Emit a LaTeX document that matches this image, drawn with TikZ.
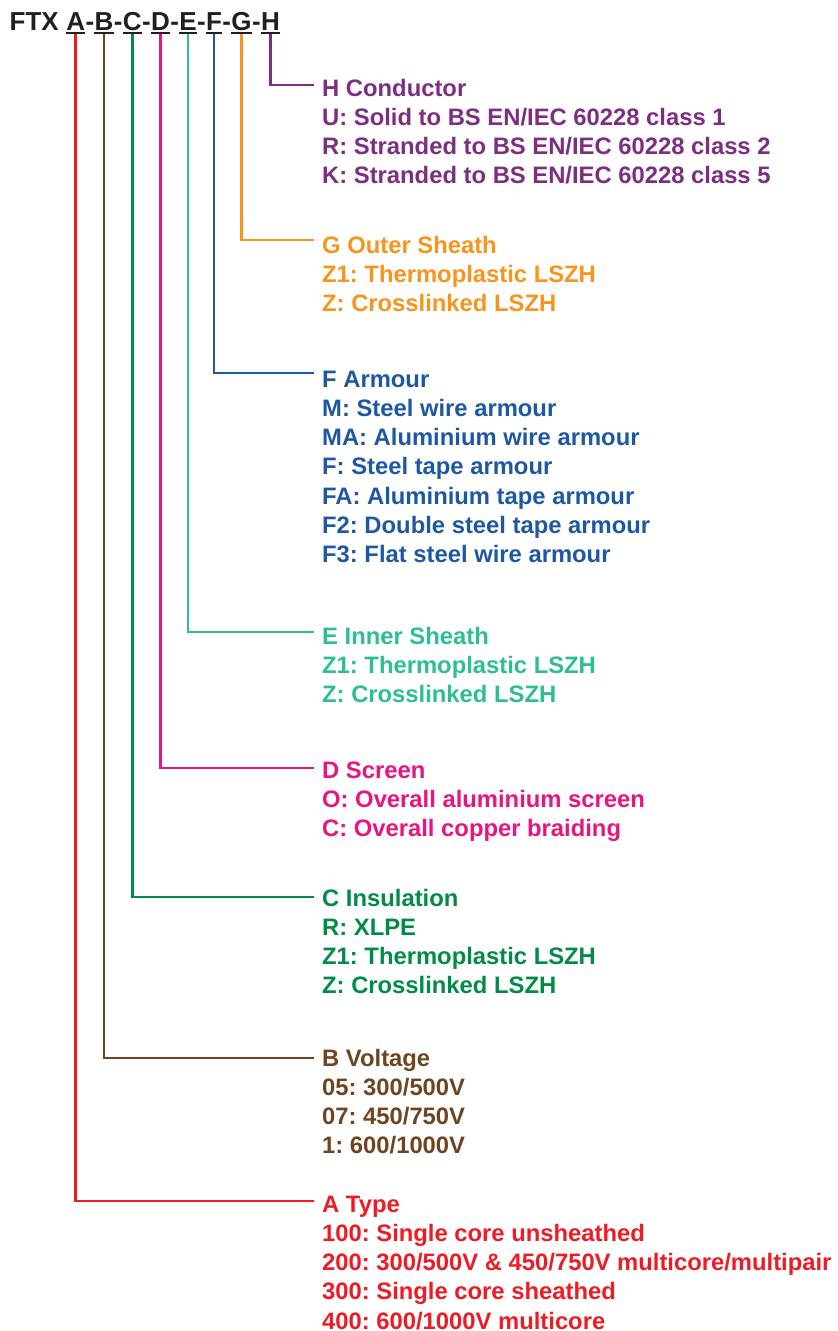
\documentclass[tikz,border=0pt]{standalone}
\usepackage{fontspec}
\setmainfont{Liberation Sans}
\frenchspacing
\definecolor{hdrc}{RGB}{35,31,32}
\definecolor{cA}{RGB}{237,28,36}
\definecolor{cB}{RGB}{110,68,33}
\definecolor{cC}{RGB}{0,140,70}
\definecolor{cD}{RGB}{232,20,130}
\definecolor{cE}{RGB}{45,190,150}
\definecolor{cF}{RGB}{30,88,162}
\definecolor{cG}{RGB}{247,148,29}
\definecolor{cH}{RGB}{125,45,130}
\begin{document}
\begin{tikzpicture}[x=1pt,y=-1pt,
  hdr/.style={inner sep=0pt, anchor=base west, font=\fontsize{26}{30}\selectfont\bfseries, text=hdrc},
  ln/.style={inner sep=0pt, anchor=base west, font=\fontsize{23.8}{29.3}\selectfont\bfseries\frenchspacing},
  conn/.style={line width=2.8pt},
  uline/.style={hdrc, line width=2pt}]
\useasboundingbox (0,0) rectangle (838,1331);
% header
\node[hdr] (ftx) at (9.5,30.5) {FTX\kern7.2pt};
\node[hdr] (A) at (ftx.base east) {A};
\node[hdr] (h1) at (A.base east) {-};
\node[hdr] (B) at (h1.base east) {B};
\node[hdr] (h2) at (B.base east) {-};
\node[hdr] (C) at (h2.base east) {C};
\node[hdr] (h3) at (C.base east) {-};
\node[hdr] (D) at (h3.base east) {D};
\node[hdr] (h4) at (D.base east) {-};
\node[hdr] (E) at (h4.base east) {E};
\node[hdr] (h5) at (E.base east) {-};
\node[hdr] (F) at (h5.base east) {F};
\node[hdr] (h6) at (F.base east) {-};
\node[hdr] (G) at (h6.base east) {G};
\node[hdr] (h7) at (G.base east) {-};
\node[hdr] (H) at (h7.base east) {H};
\foreach \n in {A,B,C,D,E,F,G,H}{
  \draw[uline] ([yshift=-2.5pt]\n.base west) -- ([yshift=-2.5pt]\n.base east);
}
% H
\node[ln, text=cH] (Ht) at (322,96) {H Conductor};
\node[ln, text=cH] (H1) at (322,125.3) {U: Solid to BS EN/IEC 60228 class 1};
\node[ln, text=cH] (H2) at (322,154.6) {R: Stranded to BS EN/IEC 60228 class 2};
\node[ln, text=cH] (H3) at (322,183.9) {K: Stranded to BS EN/IEC 60228 class 5};
\coordinate (He) at (314,85);
\draw[conn, cH] ([yshift=-3pt]H.south) |- (He);
% G
\node[ln, text=cG] (Gt) at (322,253) {G Outer Sheath};
\node[ln, text=cG] (G1) at (322,282.3) {Z1: Thermoplastic LSZH};
\node[ln, text=cG] (G2) at (322,311.6) {Z: Crosslinked LSZH};
\coordinate (Ge) at (314,240);
\draw[conn, cG] ([yshift=-3pt]G.south) |- (Ge);
% F
\node[ln, text=cF] (Ft) at (322,387) {F Armour};
\node[ln, text=cF] (F1) at (322,416.3) {M: Steel wire armour};
\node[ln, text=cF] (F2) at (322,445.6) {MA: Aluminium wire armour};
\node[ln, text=cF] (F3) at (322,474.9) {F: Steel tape armour};
\node[ln, text=cF] (F4) at (322,504.2) {FA: Aluminium tape armour};
\node[ln, text=cF] (F5) at (322,533.5) {F2: Double steel tape armour};
\node[ln, text=cF] (F6) at (322,562.8) {F3: Flat steel wire armour};
\coordinate (Fe) at (314,373);
\draw[conn, cF] ([yshift=-3pt]F.south) |- (Fe);
% E
\node[ln, text=cE] (Et) at (322,644) {E Inner Sheath};
\node[ln, text=cE] (E1) at (322,673.3) {Z1: Thermoplastic LSZH};
\node[ln, text=cE] (E2) at (322,702.6) {Z: Crosslinked LSZH};
\coordinate (Ee) at (314,632);
\draw[conn, cE] ([yshift=-3pt]E.south) |- (Ee);
% D
\node[ln, text=cD] (Dt) at (322,778) {D Screen};
\node[ln, text=cD] (D1) at (322,807.3) {O: Overall aluminium screen};
\node[ln, text=cD] (D2) at (322,836.6) {C: Overall copper braiding};
\coordinate (De) at (314,768);
\draw[conn, cD] ([yshift=-3pt]D.south) |- (De);
% C
\node[ln, text=cC] (Ct) at (322,906) {C Insulation};
\node[ln, text=cC] (C1) at (322,935.3) {R: XLPE};
\node[ln, text=cC] (C2) at (322,964.6) {Z1: Thermoplastic LSZH};
\node[ln, text=cC] (C3) at (322,993.9) {Z: Crosslinked LSZH};
\coordinate (Ce) at (314,897);
\draw[conn, cC] ([yshift=-3pt]C.south) |- (Ce);
% B
\node[ln, text=cB] (Bt) at (322,1066) {B Voltage};
\node[ln, text=cB] (B1) at (322,1095.3) {05: 300/500V};
\node[ln, text=cB] (B2) at (322,1124.6) {07: 450/750V};
\node[ln, text=cB] (B3) at (322,1153.9) {1: 600/1000V};
\coordinate (Be) at (314,1058);
\draw[conn, cB] ([yshift=-3pt]B.south) |- (Be);
% A
\node[ln, text=cA] (At) at (322,1212) {A Type};
\node[ln, text=cA] (A1) at (322,1241.3) {100: Single core unsheathed};
\node[ln, text=cA] (A2) at (322,1270.6) {200: 300/500V \& 450/750V multicore/multipair};
\node[ln, text=cA] (A3) at (322,1299.9) {300: Single core sheathed};
\node[ln, text=cA] (A4) at (322,1329.2) {400: 600/1000V multicore};
\coordinate (Ae) at (314,1201);
\draw[conn, cA] ([yshift=-3pt]A.south) |- (Ae);
\end{tikzpicture}
\end{document}
